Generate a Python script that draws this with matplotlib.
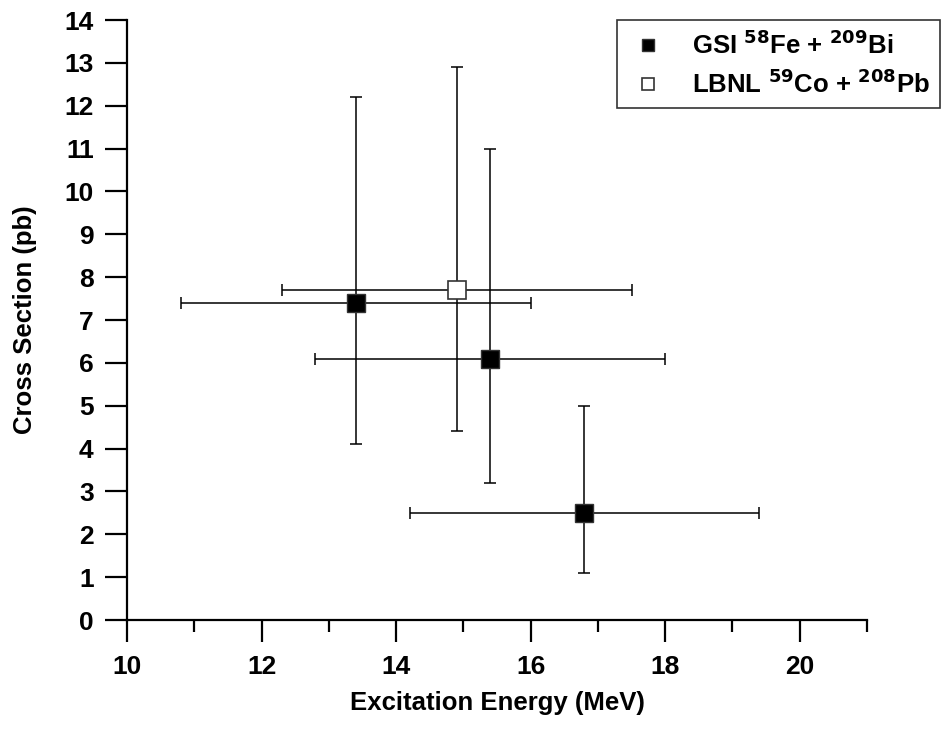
import matplotlib
matplotlib.use("Agg")
import matplotlib.pyplot as plt
from matplotlib.ticker import MultipleLocator

plt.rcParams['font.family'] = ['Liberation Sans', 'DejaVu Sans']
plt.rcParams['font.weight'] = 'bold'
plt.rcParams['mathtext.default'] = 'bf'

# GSI 58Fe + 209Bi
gsi_x = [13.4, 15.4, 16.8]
gsi_y = [7.4, 6.1, 2.5]
gsi_x_lo = [10.8, 12.8, 14.2]
gsi_x_hi = [16.0, 18.0, 19.4]
gsi_y_lo = [4.1, 3.2, 1.1]
gsi_y_hi = [12.2, 11.0, 5.0]

# LBNL 59Co + 208Pb
lbnl_x = [14.9]
lbnl_y = [7.7]
lbnl_x_lo = [12.3]
lbnl_x_hi = [17.5]
lbnl_y_lo = [4.4]
lbnl_y_hi = [12.9]

fig = plt.figure(figsize=(9.43, 7.42), dpi=100)
ax = fig.add_axes([127/943, 1-620/742, (867-127)/943, 600/742])

def errs(v, lo, hi):
    return [[a - b for a, b in zip(v, lo)], [c - a for a, c in zip(v, hi)]]

ax.errorbar(gsi_x, gsi_y, xerr=errs(gsi_x, gsi_x_lo, gsi_x_hi),
            yerr=errs(gsi_y, gsi_y_lo, gsi_y_hi), fmt='none', ecolor='black',
            elinewidth=1.1, capsize=4.5, capthick=1.1, zorder=2)
ax.errorbar(lbnl_x, lbnl_y, xerr=errs(lbnl_x, lbnl_x_lo, lbnl_x_hi),
            yerr=errs(lbnl_y, lbnl_y_lo, lbnl_y_hi), fmt='none', ecolor='black',
            elinewidth=1.1, capsize=4.5, capthick=1.1, zorder=2)
ax.plot(gsi_x, gsi_y, 's', color='black', markersize=12.5, markeredgecolor='#333333',
        markeredgewidth=1, zorder=3, label=r'GSI $^{\mathbf{58}}$Fe + $^{\mathbf{209}}$Bi')
ax.plot(lbnl_x, lbnl_y, 's', markerfacecolor='white', markeredgecolor='#333333',
        markersize=12.5, markeredgewidth=1.2, zorder=3,
        label=r'LBNL $^{\mathbf{59}}$Co + $^{\mathbf{208}}$Pb')

ax.set_xlim(10, 21)
ax.set_ylim(0, 14)
ax.xaxis.set_major_locator(MultipleLocator(2))
ax.xaxis.set_minor_locator(MultipleLocator(1))
ax.yaxis.set_major_locator(MultipleLocator(1))
for s in ['top', 'right']:
    ax.spines[s].set_visible(False)
for s in ['left', 'bottom']:
    ax.spines[s].set_linewidth(1.6)
ax.tick_params(axis='both', which='major', direction='out', length=16, width=1.6,
               labelsize=19)
ax.tick_params(axis='x', which='major', pad=9)
ax.tick_params(axis='y', which='major', pad=8)
ax.tick_params(axis='x', which='minor', direction='out', length=8.5, width=1.6)
for lab in ax.get_xticklabels() + ax.get_yticklabels():
    lab.set_fontweight('bold')

ax.set_xlabel('Excitation Energy (MeV)', fontsize=18.5, fontweight='bold', labelpad=8.5)
ax.set_ylabel('Cross Section (pb)', fontsize=18.5, fontweight='bold', labelpad=20)

leg = ax.legend(loc='upper left', bbox_to_anchor=(617/943, 1 - 20/742), bbox_transform=fig.transFigure,
                fontsize=18.5, frameon=True, fancybox=False, edgecolor='black',
                markerscale=0.7, handlelength=1.6, handletextpad=0.9, borderpad=0.4,
                borderaxespad=0, labelspacing=0.4)
leg.get_frame().set_linewidth(1.2)
for t in leg.get_texts():
    t.set_fontweight('bold')

fig.savefig('out.png', dpi=100)
